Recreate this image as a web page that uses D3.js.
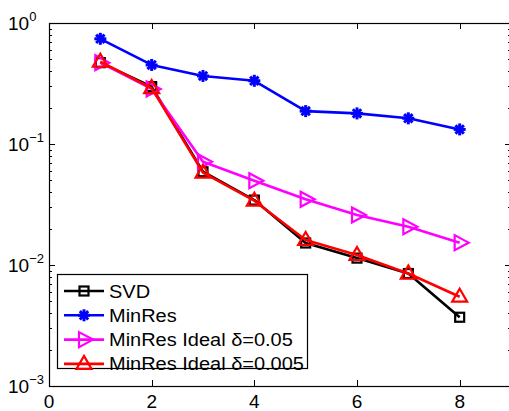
<!DOCTYPE html>
<html>
<head>
<meta charset="utf-8">
<script src="https://cdn.jsdelivr.net/npm/d3@7"></script>
<style>
  html, body { margin: 0; padding: 0; background: #fff; }
  svg { display: block; font-family: "Liberation Sans", Arial, sans-serif; }
</style>
</head>
<body>
<div id="chart"></div>
<script>
// iterations on the x axis
var iters = [1, 2, 3, 4, 5, 6, 7, 8];

// series values
var svd      = [0.47, 0.298, 0.059, 0.0344, 0.0152, 0.0114, 0.0085, 0.0037];
var minres   = [0.74, 0.45, 0.365, 0.333, 0.187, 0.179, 0.163, 0.132];
var ideal05  = [0.47, 0.285, 0.0714, 0.0497, 0.0349, 0.0259, 0.0207, 0.0153];
var ideal005 = [0.479, 0.29, 0.058, 0.034, 0.0161, 0.0121, 0.0085, 0.00547];

var xTicks = [0, 2, 4, 6, 8];
var yDecades = [-3, -2, -1, 0];
var legendLabels = ["SVD", "MinRes", "MinRes Ideal \u03b4=0.05", "MinRes Ideal \u03b4=0.005"];

var W = 509, H = 411;
var plot = { left: 49, right: 511, top: 23, bottom: 386 };

var svg = d3.select("#chart").append("svg")
    .attr("width", W)
    .attr("height", H);

var x = d3.scaleLinear().domain([0, 9]).range([plot.left, plot.right]);
var y = d3.scaleLog().domain([1e-3, 1]).range([plot.bottom, plot.top]);

// ticks
var g = svg.append("g").attr("stroke", "#000").attr("stroke-width", 1);
xTicks.forEach(function (t) {
    var px = Math.round(x(t)) + 0.5;
    g.append("line").attr("x1", px).attr("x2", px).attr("y1", plot.bottom).attr("y2", plot.bottom - 6);
    g.append("line").attr("x1", px).attr("x2", px).attr("y1", plot.top).attr("y2", plot.top + 6);
});
yDecades.forEach(function (d) {
    var base = Math.pow(10, d);
    var py = Math.round(y(base)) + 0.5;
    g.append("line").attr("x1", plot.left).attr("x2", plot.left + 6).attr("y1", py).attr("y2", py);
    g.append("line").attr("x1", plot.right).attr("x2", plot.right - 6).attr("y1", py).attr("y2", py);
    if (d < 0) {
        for (var k = 2; k <= 9; k++) {
            var my = Math.round(y(base * k)) + 0.5;
            g.append("line").attr("x1", plot.left).attr("x2", plot.left + 3).attr("y1", my).attr("y2", my);
            g.append("line").attr("x1", plot.right).attr("x2", plot.right - 3).attr("y1", my).attr("y2", my);
        }
    }
});

// frame
svg.append("rect")
    .attr("x", plot.left + 0.5).attr("y", plot.top + 0.5)
    .attr("width", plot.right - plot.left).attr("height", plot.bottom - plot.top)
    .attr("fill", "none").attr("stroke", "#000").attr("stroke-width", 1.2);

// tick labels
svg.selectAll(".xlab").data(xTicks).enter().append("text")
    .attr("x", function (d) { return x(d); })
    .attr("y", 408)
    .attr("text-anchor", "middle")
    .attr("font-size", 19)
    .text(function (d) { return d; });

yDecades.forEach(function (d) {
    var t = svg.append("text")
        .attr("x", 8)
        .attr("y", y(Math.pow(10, d)) + 7)
        .attr("font-size", 19);
    t.append("tspan").text("10");
    t.append("tspan").attr("dy", -9).attr("font-size", 13).text(d === 0 ? "0" : "\u2212" + (-d));
});

// markers
function drawMarker(sel, type, color) {
    if (type === "square") {
        sel.append("rect").attr("x", -4.5).attr("y", -4.5).attr("width", 9).attr("height", 9)
            .attr("fill", "none").attr("stroke", color).attr("stroke-width", 2.2);
    } else if (type === "star") {
        var r = 6;
        [[-r, 0, r, 0], [0, -r, 0, r], [-r * 0.7, -r * 0.7, r * 0.7, r * 0.7], [-r * 0.7, r * 0.7, r * 0.7, -r * 0.7]]
            .forEach(function (s) {
                sel.append("line").attr("x1", s[0]).attr("y1", s[1]).attr("x2", s[2]).attr("y2", s[3])
                    .attr("stroke", color).attr("stroke-width", 3);
            });
        sel.append("circle").attr("r", 3.5).attr("fill", color);
    } else if (type === "right") {
        sel.append("path").attr("d", "M-5,-7.5L9,0L-5,7.5Z")
            .attr("fill", "none").attr("stroke", color).attr("stroke-width", 2.2);
    } else if (type === "up") {
        sel.append("path").attr("d", "M0,-8L7.5,5L-7.5,5Z")
            .attr("fill", "none").attr("stroke", color).attr("stroke-width", 2.2);
    }
}

var series = [
    { values: svd,      color: "#000000", marker: "square" },
    { values: minres,   color: "#0000ff", marker: "star" },
    { values: ideal05,  color: "#ff00ff", marker: "right" },
    { values: ideal005, color: "#ff0000", marker: "up" }
];

var line = d3.line()
    .x(function (d) { return x(d[0]); })
    .y(function (d) { return y(d[1]); });

series.forEach(function (s) {
    var pts = iters.map(function (it, i) { return [it, s.values[i]]; });
    svg.append("path").datum(pts)
        .attr("d", line)
        .attr("fill", "none")
        .attr("stroke", s.color)
        .attr("stroke-width", 2.6)
        .attr("stroke-linejoin", "round");
    pts.forEach(function (p) {
        var m = svg.append("g").attr("transform", "translate(" + x(p[0]) + "," + y(p[1]) + ")");
        drawMarker(m, s.marker, s.color);
    });
});

// legend
var lg = svg.append("g");
lg.append("rect")
    .attr("x", 57.5).attr("y", 274.5).attr("width", 250).attr("height", 94)
    .attr("fill", "#fff").attr("stroke", "#000").attr("stroke-width", 1.2);
series.forEach(function (s, i) {
    var ry = 291 + i * 24.3;
    lg.append("line").attr("x1", 64).attr("x2", 104).attr("y1", ry).attr("y2", ry)
        .attr("stroke", s.color).attr("stroke-width", 2.6);
    var m = lg.append("g").attr("transform", "translate(84," + ry + ")");
    drawMarker(m, s.marker, s.color);
    lg.append("text")
        .attr("transform", "translate(109," + (ry + 6.5) + ") scale(1.08,1)")
        .attr("font-size", 18.5)
        .text(legendLabels[i]);
});
</script>
</body>
</html>
